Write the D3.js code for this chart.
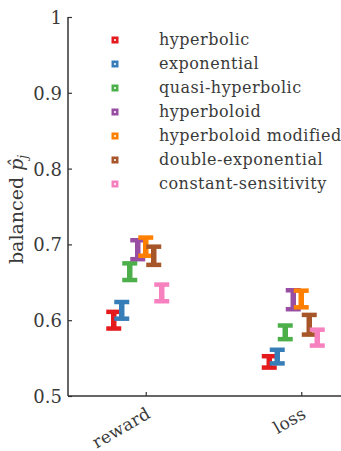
<!DOCTYPE html>
<html>
<head>
<meta charset="utf-8">
<script src="https://cdn.jsdelivr.net/npm/d3@7"></script>
<style>
  html, body { margin: 0; padding: 0; background: #fff; }
  svg { display: block; }
  text { font-family: "DejaVu Serif", serif; fill: #3a3a3a; }
</style>
</head>
<body>
<script>
const categories = ["reward", "loss"];
const seriesNames = ["hyperbolic", "exponential", "quasi-hyperbolic", "hyperboloid",
  "hyperboloid modified", "double-exponential", "constant-sensitivity"];
const seriesColors = ["#e41a1c", "#377eb8", "#4daf4a", "#984ea3", "#ff7f00", "#a65628", "#f781bf"];
// mean values per series
const rewardMeans = [0.600, 0.613, 0.664, 0.693, 0.697, 0.685, 0.636];
const lossMeans   = [0.545, 0.552, 0.584, 0.627, 0.628, 0.594, 0.577];
// half-widths of error bars
const rewardErr   = [0.011, 0.011, 0.011, 0.0125, 0.012, 0.012, 0.011];
const lossErr     = [0.0075, 0.009, 0.009, 0.0125, 0.011, 0.013, 0.0105];
const yTicks = [0.5, 0.6, 0.7, 0.8, 0.9, 1.0];

const W = 341, H = 451;
const svg = d3.select("body").append("svg").attr("width", W).attr("height", H);

const x = d3.scalePoint().domain(categories).range([68, 379]).padding(0.5);
const offset = d3.scaleLinear().domain([0, 6]).range([-32, 16]);
const y = d3.scaleLinear().domain([0.5, 1.0]).range([396, 17]);

// axes
const yAxis = d3.axisLeft(y).tickValues(yTicks).tickSize(-4).tickPadding(6)
  .tickFormat(d => d === 1 ? "1" : d3.format(".1f")(d));
const gy = svg.append("g").attr("transform", "translate(68,0)").call(yAxis);
gy.select(".domain").remove();
gy.selectAll(".tick line").attr("stroke", "#333").attr("stroke-width", 1.2);
gy.selectAll(".tick text").style("font-family", "DejaVu Serif").style("font-size", "18px")
  .attr("fill", "#444").attr("dy", "0.36em");

const xAxis = d3.axisBottom(x).tickSize(-4).tickFormat("");
const gx = svg.append("g").attr("transform", "translate(0,396)").call(xAxis);
gx.select(".domain").remove();
gx.selectAll(".tick line").attr("stroke", "#333").attr("stroke-width", 1.2);

// spines
svg.append("line").attr("x1", 68).attr("x2", 68).attr("y1", y(1)).attr("y2", y(0.5))
  .attr("stroke", "#333").attr("stroke-width", 1.5);
svg.append("line").attr("x1", 68).attr("x2", W).attr("y1", y(0.5)).attr("y2", y(0.5))
  .attr("stroke", "#333").attr("stroke-width", 1.5);

// x tick labels rotated
categories.forEach(c => {
  svg.append("text")
    .attr("transform", `translate(${x(c) + 6},${417}) rotate(-30)`)
    .attr("text-anchor", "end")
    .style("font-size", "17px").style("letter-spacing", "0.3px").attr("fill", "#444")
    .text(c);
});

// y label
const yl = svg.append("text")
  .attr("transform", `translate(23,${(y(1) + y(0.5)) / 2 + 3}) rotate(-90)`)
  .attr("text-anchor", "middle")
  .style("font-size", "19px").attr("fill", "#444");
yl.append("tspan").text("balanced ");
yl.append("tspan").style("font-style", "italic").text("p\u0302");
yl.append("tspan").style("font-style", "italic").style("font-size", "12px").attr("dy", 4).text("j");

// error bars
const data = [];
seriesNames.forEach((s, i) => {
  data.push({ s: i, cat: "reward", m: rewardMeans[i], e: rewardErr[i] });
  data.push({ s: i, cat: "loss", m: lossMeans[i], e: lossErr[i] });
});
data.sort((a, b) => a.s - b.s);

const capW = 15, stemW = 5.5, capT = 4.5;
const g = svg.append("g");
data.forEach(d => {
  const cx = x(d.cat) + offset(d.s);
  const col = seriesColors[d.s];
  const top = y(d.m + d.e), bot = y(d.m - d.e);
  g.append("line").attr("x1", cx).attr("x2", cx).attr("y1", top).attr("y2", bot)
    .attr("stroke", col).attr("stroke-width", stemW);
  [top, bot].forEach(yy => {
    g.append("line").attr("x1", cx - capW / 2).attr("x2", cx + capW / 2)
      .attr("y1", yy).attr("y2", yy).attr("stroke", col).attr("stroke-width", capT);
  });
});

// legend
const leg = svg.append("g");
seriesNames.forEach((s, i) => {
  const cy = 40 + i * 24;
  leg.append("rect").attr("x", 115 - 3.5).attr("y", cy - 3.5).attr("width", 7).attr("height", 7)
    .attr("fill", seriesColors[i]);
  leg.append("rect").attr("x", 114).attr("y", cy - 1).attr("width", 2).attr("height", 2)
    .attr("fill", "#fff").attr("opacity", 0.8);
  leg.append("text").attr("x", 159).attr("y", cy + 5)
    .style("font-size", "16px").style("letter-spacing", "0.5px").attr("fill", "#444").text(s);
});
</script>
</body>
</html>
